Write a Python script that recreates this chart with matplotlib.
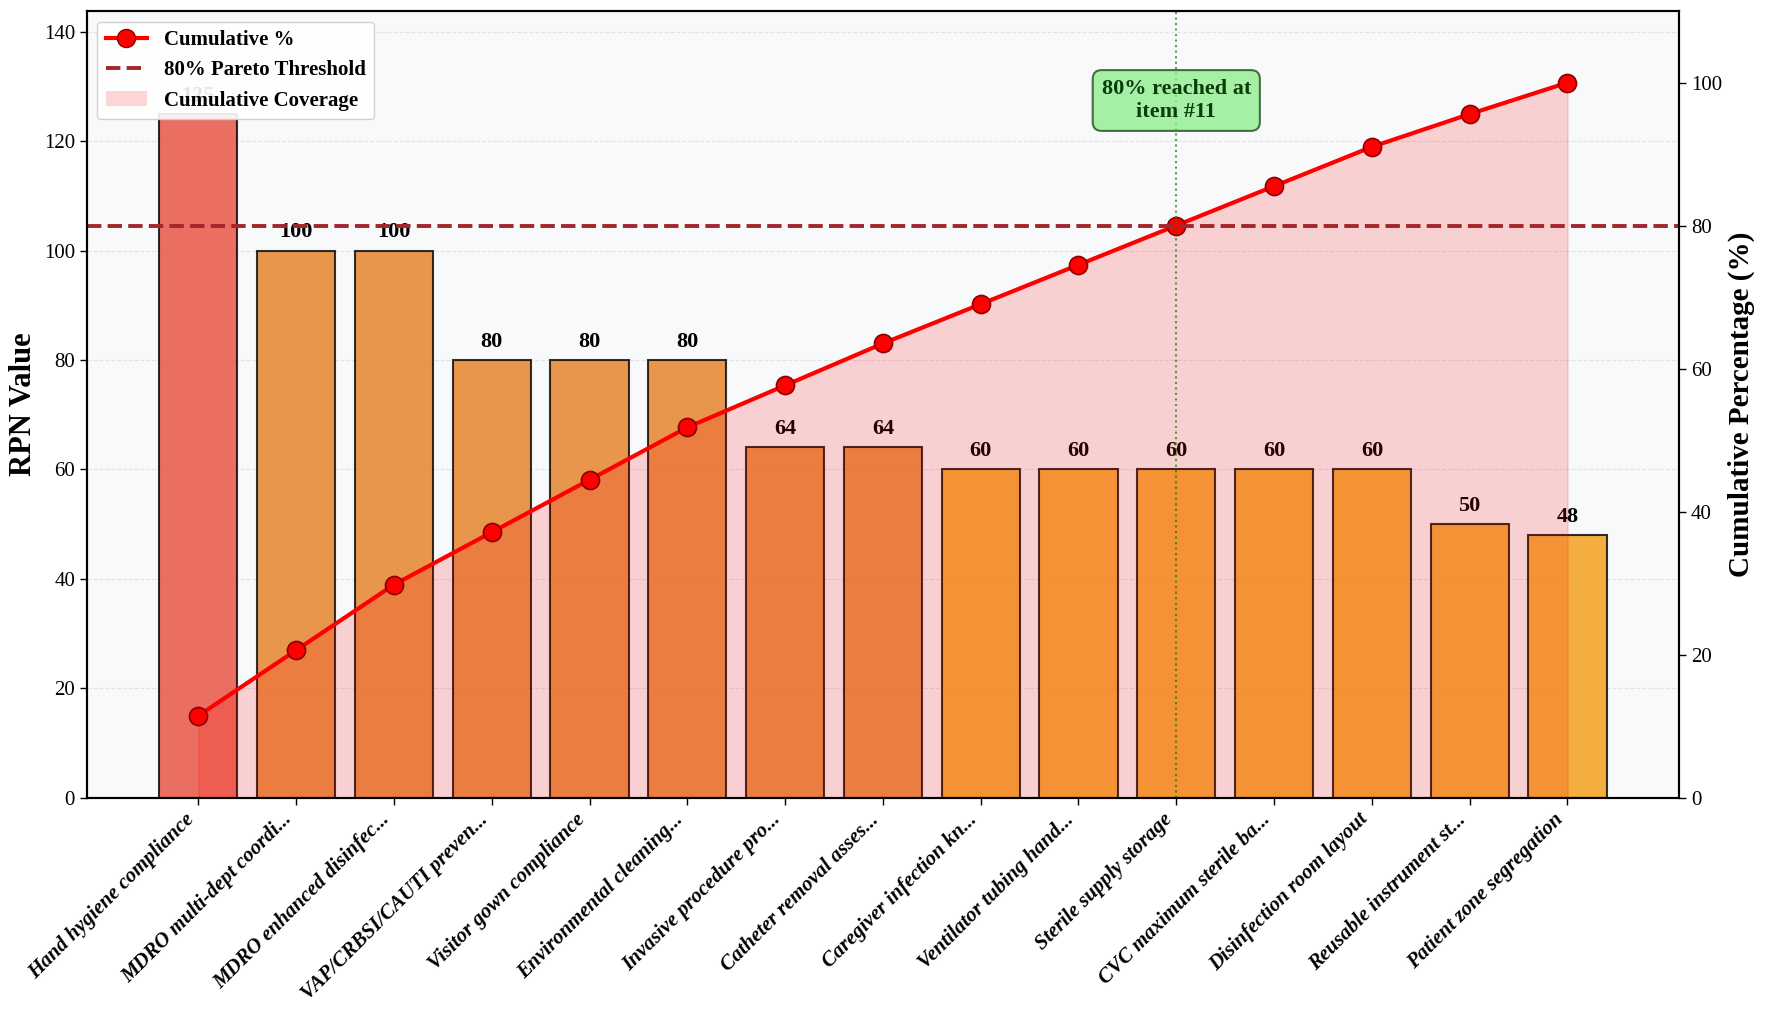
import numpy as np
import matplotlib
matplotlib.use("Agg")
import matplotlib.pyplot as plt
from matplotlib.lines import Line2D
from matplotlib.patches import Patch

plt.rcParams["font.family"] = ["Liberation Serif", "DejaVu Serif"]

# failure modes sorted by RPN (Pareto order)
labels = [
    "Hand hygiene compliance",
    "MDRO multi-dept coordi...",
    "MDRO enhanced disinfec...",
    "VAP/CRBSI/CAUTI preven...",
    "Visitor gown compliance",
    "Environmental cleaning...",
    "Invasive procedure pro...",
    "Catheter removal asses...",
    "Caregiver infection kn...",
    "Ventilator tubing hand...",
    "Sterile supply storage",
    "CVC maximum sterile ba...",
    "Disinfection room layout",
    "Reusable instrument st...",
    "Patient zone segregation",
]
rpn = [125, 100, 100, 80, 80, 80, 64, 64, 60, 60, 60, 60, 60, 50, 48]
threshold_pct = 80

rpn = np.array(rpn)
cum_pct = np.cumsum(rpn) / rpn.sum() * 100
x = np.arange(len(rpn))
cross_idx = int(np.argmax(cum_pct >= threshold_pct))


def bar_color(v):
    if v >= 120:
        return "#e74c3c"
    if v > 60:
        return "#e67e22"
    return "#f39c12"


colors = [bar_color(v) for v in rpn]

fig, ax1 = plt.subplots(figsize=(17.72, 10.11), dpi=100)
fig.subplots_adjust(left=0.049, right=0.9475, bottom=0.211, top=0.989)
ax1.set_facecolor("#f8f9fa")

bars = ax1.bar(x, rpn, width=0.8, color=colors, alpha=0.8,
               edgecolor="black", linewidth=1.5)
for b, v in zip(bars, rpn):
    ax1.text(b.get_x() + b.get_width() / 2, v + 1.5, f"{v}",
             ha="center", va="bottom", fontsize=16, fontweight="bold")

ax1.set_ylim(0, rpn.max() * 1.15)
ax1.set_ylabel("RPN Value", fontsize=22, fontweight="bold")
ax1.set_xticks(x)
ax1.set_xticklabels(labels, rotation=45, ha="right", fontsize=15,
                    fontweight="bold", fontstyle="italic")
ax1.tick_params(axis="y", labelsize=15, length=5, width=1)
ax1.tick_params(axis="x", length=5, width=1)
ax1.grid(axis="y", linestyle="--", alpha=0.3)
ax1.set_axisbelow(True)

ax2 = ax1.twinx()
ax2.fill_between(x, 0, cum_pct, color="red", alpha=0.16)
ax2.plot(x, cum_pct, color="red", linewidth=3, marker="o", markersize=13,
         markerfacecolor="red", markeredgecolor="darkred", markeredgewidth=1.2)
ax2.axhline(threshold_pct, color="#a3262c", linestyle="--", linewidth=2.8)
ax2.axvline(cross_idx, color="green", linestyle=":", linewidth=1.5, alpha=0.7)
ax2.text(cross_idx, 97.5, f"80% reached at\nitem #{cross_idx + 1}",
         ha="center", va="center", fontsize=16, fontweight="bold",
         color="#0b3d0b",
         bbox=dict(boxstyle="round,pad=0.4", facecolor="lightgreen",
                   edgecolor="#1f4d1f", alpha=0.8, linewidth=1.5))
ax2.set_ylim(0, 110)
ax2.set_ylabel("Cumulative Percentage (%)", fontsize=21, fontweight="bold")
ax2.tick_params(axis="y", labelsize=15, length=5, width=1)

for ax in (ax1, ax2):
    for s in ax.spines.values():
        s.set_linewidth(1.5)

handles = [
    Line2D([0], [0], color="red", linewidth=3, marker="o", markersize=13,
           markerfacecolor="red", markeredgecolor="darkred"),
    Line2D([0], [0], color="#a3262c", linestyle="--", linewidth=2.8),
    Patch(facecolor="red", alpha=0.16),
]
ax2.legend(handles, ["Cumulative %", "80% Pareto Threshold", "Cumulative Coverage"],
           loc="upper left", prop={"weight": "bold", "size": 15},
           framealpha=0.9, fancybox=True)

fig.savefig("out.png", dpi=100)
